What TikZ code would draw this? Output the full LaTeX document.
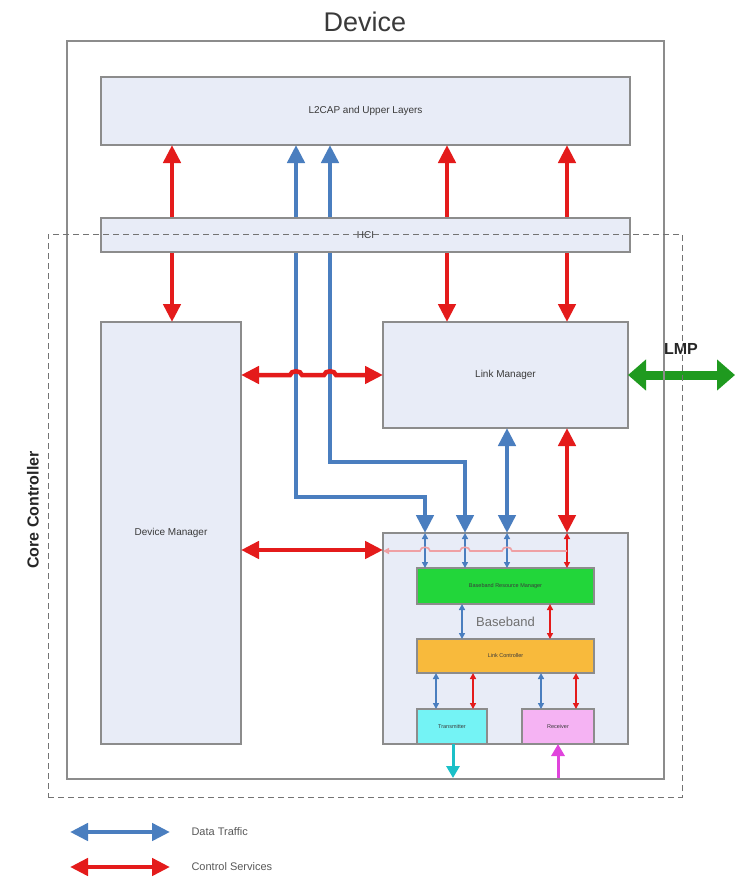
\documentclass[tikz,border=0pt]{standalone}
\usepackage{fontspec}
\setmainfont{Liberation Sans}
\usetikzlibrary{arrows.meta,calc}
\pgfdeclarelayer{bg}
\pgfdeclarelayer{fg}
\pgfsetlayers{bg,main,fg}

\definecolor{devfill}{HTML}{F2F5F8}
\definecolor{boxfill}{HTML}{E8ECF7}
\definecolor{boxline}{HTML}{8C8C8C}
\definecolor{txt}{HTML}{3A3A3A}
\definecolor{datablue}{HTML}{4A7EBF}
\definecolor{ctlred}{HTML}{E41B1B}
\definecolor{hopred}{HTML}{EFA0A4}
\definecolor{lmpgreen}{HTML}{1F9A1F}
\definecolor{bpmgreen}{HTML}{22D63A}
\definecolor{lcorange}{HTML}{F8BA3C}
\definecolor{txcyan}{HTML}{74F3F5}
\definecolor{rxpink}{HTML}{F5B3F3}
\definecolor{cyanarr}{HTML}{1BC0C8}
\definecolor{magarr}{HTML}{E044DC}

\tikzset{
  blk/.style={draw=boxline, line width=1.3pt, fill=boxfill, inner sep=0pt, outer sep=0pt,
    text=txt, font=\fontsize{10}{12}\selectfont},
  sub/.style={draw=boxline, line width=1.2pt, inner sep=0pt, outer sep=0pt,
    text=txt, font=\fontsize{5.5}{6}\selectfont},
  bigtip/.tip={Triangle[length=18pt,width=17pt]},
  smalltip/.tip={Triangle[length=6pt,width=6pt]},
  dataflow/.style={draw=datablue, line width=4.5pt, line join=miter},
  ctlflow/.style={draw=ctlred, line width=4.5pt},
  sdata/.style={draw=datablue, line width=1.6pt, smalltip-smalltip},
  sctl/.style={draw=ctlred, line width=1.6pt, smalltip-smalltip},
}

\begin{document}
\begin{tikzpicture}[x=1pt,y=-1pt]
\useasboundingbox (0,0) rectangle (735,878);
\fill[white] (0,0) rectangle (735,878);

% title
\node[text=txt, font=\fontsize{27}{30}\selectfont] (title) at (365,22) {Device};

% device frame
\begin{pgfonlayer}{bg}
\node[draw=boxline, line width=1.3pt, fill=devfill, minimum width=597pt, minimum height=738pt,
  inner sep=0pt, outer sep=0pt] (dev) at (365.5,410) {};
\end{pgfonlayer}

% blocks
\node[blk, minimum width=529pt, minimum height=68pt] (l2cap) at (365.5,111) {L2CAP and Upper Layers};
\node[blk, minimum width=140pt, minimum height=422pt] (dm) at (171,533) {Device Manager};
\node[blk, minimum width=245pt, minimum height=106pt] (lm) at (505.5,375) {Link Manager};
\node[blk, minimum width=245pt, minimum height=211pt] (bb) at (505.5,638.5) {};
\node[sub, fill=bpmgreen, minimum width=177pt, minimum height=36pt] (bpm) at (505.5,586) {Baseband Resource Manager};
\node[text=boxline!80!black, font=\fontsize{13}{15}\selectfont] (bblabel) at (505.5,622) {Baseband};
\node[sub, fill=lcorange, minimum width=177pt, minimum height=34pt] (lc) at (505.5,656) {Link Controller};
\node[sub, fill=txcyan, minimum width=70pt, minimum height=35pt] (tx) at (452,726.5) {Transmitter};
\node[sub, fill=rxpink, minimum width=72pt, minimum height=35pt] (rx) at (558,726.5) {Receiver};

\begin{pgfonlayer}{fg}
\node[blk, minimum width=529pt, minimum height=34pt] (hci) at (365.5,235) {HCI};
\end{pgfonlayer}

% column positions of the vertical flows
\coordinate (cA) at (172,0);
\coordinate (cB) at (296,0);
\coordinate (cC) at (330,0);
\coordinate (cD) at (447,0);
\coordinate (cE) at (567,0);
\coordinate (cF) at (425,0);
\coordinate (cG) at (465,0);
\coordinate (cH) at (507,0);
\coordinate (bendB) at (425,497);
\coordinate (bendC) at (465,462);
\coordinate (rowDM) at (0,550);

% control services from the upper layers
\draw[ctlflow, bigtip-bigtip] (l2cap.south -| cA) -- (dm.north -| cA);
\draw[ctlflow, bigtip-bigtip] (l2cap.south -| cD) -- (lm.north -| cD);
\draw[ctlflow, bigtip-bigtip] (l2cap.south -| cE) -- (lm.north -| cE);

% data traffic from the upper layers into the baseband
\draw[dataflow, bigtip-bigtip] (l2cap.south -| cB) |- (bendB) -- (bb.north -| bendB);
\draw[dataflow, bigtip-bigtip] (l2cap.south -| cC) |- (bendC) -- (bb.north -| bendC);

% link manager to baseband
\draw[dataflow, bigtip-bigtip] (lm.south -| cH) -- (bb.north -| cH);
\draw[ctlflow, bigtip-bigtip] (lm.south -| cE) -- (bb.north -| cE);

% device manager to link manager, hopping over the data lines
\draw[ctlflow, bigtip-bigtip] (dm.east |- lm.west) -- (290,375)
  .. controls (291,370) and (301,370) .. (302,375) -- (324,375)
  .. controls (325,370) and (335,370) .. (336,375) -- (lm.west);

% device manager to baseband
\draw[ctlflow, bigtip-bigtip] (dm.east |- rowDM) -- (bb.west |- rowDM);

% LMP
\draw[draw=lmpgreen, line width=9pt, {Triangle[length=18pt,width=30pt]}-{Triangle[length=18pt,width=30pt]}]
  (lm.east) -- (735,375) coordinate (lmpend);
\node[font=\bfseries\fontsize{16}{18}\selectfont, text=black!85] (lmp) at (681,349) {LMP};

% internal baseband links
\draw[sdata] (bb.north -| cF) -- (bpm.north -| cF);
\draw[sdata] (bb.north -| cG) -- (bpm.north -| cG);
\draw[sdata] (bb.north -| cH) -- (bpm.north -| cH);
\draw[sctl] (bb.north -| cE) -- (bpm.north -| cE);
\draw[hopred, line width=1.6pt, -{Triangle[length=6pt,width=6pt]}] (567,551) -- (512,551)
  .. controls (512,546) and (502,546) .. (502,551) -- (470,551)
  .. controls (470,546) and (460,546) .. (460,551) -- (430,551)
  .. controls (430,546) and (420,546) .. (420,551) -- (bb.west |- 0,551);

\draw[sdata] (bpm.south -| 462,0) -- (lc.north -| 462,0);
\draw[sctl] (bpm.south -| 550,0) -- (lc.north -| 550,0);

\draw[sdata] (lc.south -| 436,0) -- (tx.north -| 436,0);
\draw[sctl] (lc.south -| 473,0) -- (tx.north -| 473,0);
\draw[sdata] (lc.south -| 541,0) -- (rx.north -| 541,0);
\draw[sctl] (lc.south -| 576,0) -- (rx.north -| 576,0);

% radio in and out
\draw[draw=cyanarr, line width=3pt, -{Triangle[length=12pt,width=13pt]}] (tx.south -| 453,0) -- (453,778) coordinate (txout);
\draw[draw=magarr, line width=3pt, -{Triangle[length=12pt,width=13pt]}] (558,778) coordinate (rxin) -- (rx.south);

% outlines on top
\begin{pgfonlayer}{fg}
\draw[boxline, line width=1.3pt] (dev.north west) rectangle (dev.south east);
\node[draw=black!55, line width=0.9pt, dash pattern=on 6pt off 4pt, minimum width=634pt,
  minimum height=563pt, inner sep=0pt] (core) at (365,515.5) {};
\end{pgfonlayer}
\node[rotate=90, font=\bfseries\fontsize{16}{18}\selectfont, text=black!85] (corelabel) at (33,510) {Core Controller};

% legend
\draw[dataflow, bigtip-bigtip] (70,832) coordinate (la) -- (170,832) coordinate (lb);
\node[anchor=west, text=black!65, font=\fontsize{11}{13}\selectfont] (ldata) at (188,832) {Data Traffic};
\draw[ctlflow, bigtip-bigtip] (70,867) coordinate (lc1) -- (170,867) coordinate (lc2);
\node[anchor=west, text=black!65, font=\fontsize{11}{13}\selectfont] (lctl) at (188,867) {Control Services};
\end{tikzpicture}
\end{document}
